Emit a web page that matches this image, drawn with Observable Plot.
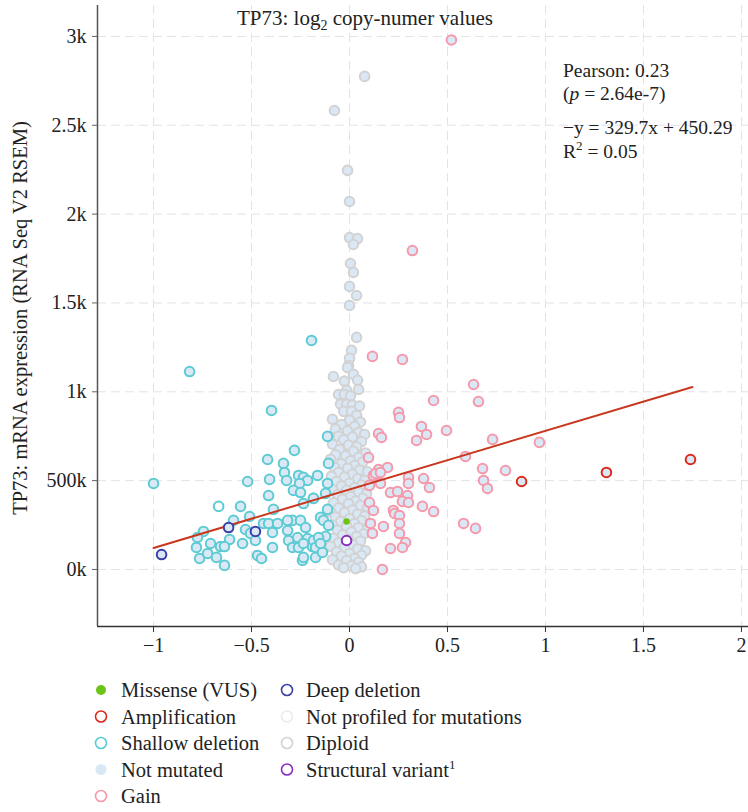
<!DOCTYPE html>
<html>
<head>
<meta charset="utf-8">
<script src="https://cdn.jsdelivr.net/npm/d3@7"></script>
<script src="https://cdn.jsdelivr.net/npm/@observablehq/plot@0.6"></script>
<style>
  html, body { margin: 0; padding: 0; background: #fff; }
  #wrap { width: 748px; }
  svg { display: block; }
</style>
</head>
<body>
<div id="wrap"></div>
<script>
// ---------- data (x: log2 copy-number, y: mRNA expression) ----------
const xTicks = [-1, -0.5, 0, 0.5, 1, 1.5, 2];
const xTickLabels = ["\u22121", "\u22120.5", "0", "0.5", "1", "1.5", "2"];
const yTicks = [0, 500, 1000, 1500, 2000, 2500, 3000];
const yTickLabels = ["0k", "500k", "1k", "1.5k", "2k", "2.5k", "3k"];

const diploid = [
  [-0.077,2583],[0.077,2775],[-0.01,2246],[0.0,2071],[0.0,1868],[0.041,1862],[0.02,1829],
  [0.005,1722],[0.02,1672],[0.0,1593],[0.036,1542],[0.0,1486],[0.036,1306],[0.01,1233],
  [0.0,1188],[-0.005,1148],[-0.082,1086],[-0.01,1137],[0.02,1098],[-0.026,1060],[0.041,1065],
  [-0.015,1008],[0.046,1013],[-0.056,985],[-0.026,985],[0.005,976],[-0.046,930],[-0.015,930],
  [0.015,925],[0.051,920],[-0.03,890],[0.01,890],[0.036,868],
  [-0.087,845],[0.0,840],[0.056,830],[-0.041,815],[0.026,805],[-0.072,790],[-0.01,780],
  [0.046,770],[0.077,760],[-0.056,750],[0.015,745],[-0.03,730],[0.061,720],[-0.087,705],
  [-0.005,700],[0.036,690],[-0.051,675],[0.02,665],[0.082,655],[-0.072,645],[-0.02,640],
  [0.046,630],[-0.097,620],[0.005,612],[0.067,605],[-0.041,595],[0.026,585],[-0.077,575],
  [-0.01,570],[0.051,560],[0.092,550],[-0.056,545],[0.015,535],[-0.092,525],[-0.026,520],
  [0.041,510],[0.077,500],[-0.066,495],[0.0,485],[0.061,475],[-0.041,470],[0.026,460],
  [-0.087,450],[-0.015,445],[0.046,435],[0.087,425],[-0.061,420],[0.005,410],[0.067,400],
  [-0.036,395],[0.031,385],[-0.082,375],[-0.005,370],[0.056,360],[0.092,350],[-0.056,345],
  [0.015,335],[-0.097,325],[-0.026,320],[0.041,310],[0.077,300],[-0.072,295],[0.0,285],
  [0.061,275],[-0.046,270],[0.026,258],[-0.087,250],[-0.015,245],[0.046,235],[0.092,225],
  [-0.061,220],[0.01,210],[0.072,200],[-0.036,195],[0.036,185],[-0.082,175],[-0.005,170],
  [0.056,160],[-0.056,150],[0.015,140],[-0.097,130],[-0.026,125],[0.041,115],[0.082,105],
  [-0.066,100],[0.0,90],[0.061,80],[-0.041,75],[0.026,62],[-0.087,55],[-0.015,50],
  [0.046,40],[-0.056,25],[0.01,20],[0.061,15],[-0.03,10],[0.031,5]
];

const shallow = [
  [-1.0,484],[-0.816,1114],[-0.194,1289],[-0.398,895],[-0.112,749],
  [-0.281,670],[-0.418,619],[-0.337,597],[-0.332,546],[-0.321,501],[-0.520,495],[-0.408,507],
  [-0.260,529],[-0.235,518],[-0.214,501],[-0.255,484],[-0.286,445],[-0.250,433],[-0.163,529],
  [-0.413,416],[-0.556,355],[-0.388,338],[-0.235,371],[-0.184,400],[-0.148,293],[-0.592,276],
  [-0.510,298],[-0.439,259],[-0.745,214],[-0.776,180],[-0.709,146],[-0.612,169],[-0.658,129],
  [-0.638,129],[-0.546,146],[-0.531,225],[-0.505,203],[-0.480,163],[-0.781,124],[-0.765,62],
  [-0.724,90],[-0.679,68],[-0.638,23],[-0.469,79],[-0.449,62],[-0.393,124],[-0.413,259],
  [-0.393,208],[-0.367,259],[-0.316,219],[-0.291,276],[-0.250,276],[-0.224,236],[-0.265,180],
  [-0.311,163],[-0.291,124],[-0.260,124],[-0.189,129],[-0.214,174],[-0.184,163],[-0.173,68],
  [-0.240,51],[-0.316,276],
  [-0.107,597],[-0.112,484],[-0.122,428],[-0.184,400],[-0.112,338],[-0.133,276],[-0.107,248],
  [-0.122,186],[-0.158,180],[-0.173,124],[-0.138,96],[-0.235,68],[-0.235,146],[-0.148,146]
];
const shallowUnprofiled = [[-0.668,355]];

const gain = [
  [0.52,2980],[0.321,1795],[0.117,1199],[0.270,1182],[0.633,1041],[0.658,945],[0.429,951],
  [0.250,884],[0.255,855],[0.367,805],[0.393,760],[0.342,726],[0.495,782],[0.730,732],
  [0.148,765],[0.163,743],[0.097,630],[0.592,636],[0.679,568],[0.796,557],[0.684,501],
  [0.704,456],[0.194,574],[0.148,563],[0.122,529],[0.158,484],[0.102,473],[0.301,518],
  [0.301,484],[0.378,512],[0.408,461],[0.209,433],[0.245,439],[0.296,416],[0.270,383],
  [0.301,377],[0.102,377],[0.122,332],[0.372,355],[0.429,326],[0.224,332],[0.230,315],
  [0.255,304],[0.107,259],[0.117,203],[0.173,242],[0.255,259],[0.255,203],[0.286,152],
  [0.270,124],[0.209,118],[0.582,259],[0.643,231],[0.168,0],[0.969,715],[0.133,540],[0.158,546]
];

const amplification = [[0.878,495],[1.311,546],[1.740,619]];
const deepDeletion = [[-0.959,84],[-0.617,236],[-0.480,214]];
const structuralVariant = [[-0.015,163]];
const missense = [[-0.015,270]];

// regression (as printed on the chart)
const regSlope = 329.7, regIntercept = 450.29;
const regX = [-1, 1.75];

// legend
const legendItems = [
  {label: "Missense (VUS)", kind: "dot", color: "#6cc417", col: 0, row: 0},
  {label: "Amplification", kind: "ring", color: "#dd2a1a", col: 0, row: 1},
  {label: "Shallow deletion", kind: "ring", color: "#5ccbd3", col: 0, row: 2},
  {label: "Not mutated", kind: "fill", color: "#dae8f5", col: 0, row: 3},
  {label: "Gain", kind: "ring", color: "#f599ab", col: 0, row: 4},
  {label: "Deep deletion", kind: "ring", color: "#3b3fa8", col: 1, row: 0},
  {label: "Not profiled for mutations", kind: "ring", color: "#ececec", col: 1, row: 1},
  {label: "Diploid", kind: "ring", color: "#d2d2d2", col: 1, row: 2},
  {label: "Structural variant", sup: "1", kind: "ring", color: "#8a2fc0", col: 1, row: 3}
];

// ---------- chart ----------
const FONT = "Liberation Serif";
const FILL = "#dae8f5";
const regLine = regX.map(x => ({x, y: regSlope * x + regIntercept}));
const pts = arr => arr.map(([x, y]) => ({x, y}));
const dotOpts = (stroke, fill) => ({x: "x", y: "y", r: 4.8, stroke, fill, strokeWidth: 2});

const plot = Plot.plot({
  width: 748, height: 665,
  marginLeft: 97, marginRight: 0, marginTop: 5, marginBottom: 39,
  style: {fontFamily: FONT, fontSize: "20px", color: "#222", background: "#fff"},
  x: {domain: [-1.286, 2.036]},
  y: {domain: [-321, 3174]},
  marks: [
    Plot.gridX(xTicks, {stroke: "#e2e2ea", strokeOpacity: 1, strokeDasharray: "9,5"}),
    Plot.gridY(yTicks, {stroke: "#e2e2ea", strokeOpacity: 1, strokeDasharray: "9,5"}),
    Plot.axisX(xTicks, {tickSize: 6, tickPadding: 5, label: null, stroke: "#333", fontSize: 20,
      tickFormat: d => xTickLabels[xTicks.indexOf(d)]}),
    Plot.axisY(yTicks, {tickSize: 5, tickPadding: 6, label: null, stroke: "#666", fontSize: 20,
      tickFormat: d => yTickLabels[yTicks.indexOf(d)]}),
    Plot.ruleX([-1.286], {stroke: "#555", strokeWidth: 1.5}),
    Plot.ruleY([-321], {stroke: "#333", strokeWidth: 1.5}),
    Plot.dot(pts(diploid), dotOpts("#d2d2d2", FILL)),
    Plot.dot(pts(shallow), dotOpts("#5ccbd3", FILL)),
    Plot.dot(pts(shallowUnprofiled), dotOpts("#5ccbd3", "#ffffff")),
    Plot.dot(pts(gain), dotOpts("#f599ab", FILL)),
    Plot.line(regLine, {x: "x", y: "y", stroke: "#c8381f", strokeWidth: 2}),
    Plot.dot(pts(amplification), dotOpts("#dd2a1a", FILL)),
    Plot.dot(pts(deepDeletion), dotOpts("#3b3fa8", FILL)),
    Plot.dot(pts(structuralVariant), dotOpts("#8a2fc0", "#ffffff")),
    Plot.dot(pts(missense), {x: "x", y: "y", r: 3.3, fill: "#6cc417", stroke: "none"})
  ]
});
document.getElementById("wrap").appendChild(plot);

// annotations (text with sub/superscripts)
const svg = d3.select(plot);
const ann = svg.append("g").attr("font-family", FONT).attr("fill", "#222").attr("text-anchor", "start");
const title = ann.append("text").attr("x", 365).attr("y", 25).attr("text-anchor", "middle").attr("font-size", 21);
title.append("tspan").text("TP73: log");
title.append("tspan").attr("font-size", 14).attr("dy", 5).text("2");
title.append("tspan").attr("dy", -5).text(" copy-numer values");

const ax = 563;
ann.append("text").attr("x", ax).attr("y", 77).attr("font-size", 19.5).text("Pearson: 0.23");
const p = ann.append("text").attr("x", ax).attr("y", 100).attr("font-size", 19.5);
p.append("tspan").text("(");
p.append("tspan").attr("font-style", "italic").text("p");
p.append("tspan").text(" = 2.64e-7)");
ann.append("text").attr("x", ax).attr("y", 134).attr("font-size", 19.5).text("\u2212y = 329.7x + 450.29");
const r2 = ann.append("text").attr("x", ax).attr("y", 158).attr("font-size", 19.5);
r2.append("tspan").text("R");
r2.append("tspan").attr("font-size", 13).attr("dy", -8).text("2");
r2.append("tspan").attr("dy", 8).text(" = 0.05");

ann.append("text").attr("transform", "translate(27,318) rotate(-90)")
  .attr("text-anchor", "middle").attr("font-size", 20.5)
  .text("TP73: mRNA expression (RNA Seq V2 RSEM)");

// ---------- legend ----------
const leg = d3.select("#wrap").append("svg").attr("width", 748).attr("height", 147)
  .attr("font-family", FONT);
const colX = [101, 287], textX = [121, 306], rowY0 = 25, rowH = 26.5;
const items = leg.selectAll("g").data(legendItems).join("g")
  .attr("transform", d => `translate(0,${rowY0 + d.row * rowH})`);
items.append("circle")
  .attr("cx", d => colX[d.col]).attr("cy", 0)
  .attr("r", d => d.kind === "dot" ? 5 : 5.5)
  .attr("fill", d => d.kind === "ring" ? "#fff" : d.color)
  .attr("stroke", d => d.kind === "ring" ? d.color : "none")
  .attr("stroke-width", 1.6);
const lt = items.append("text")
  .attr("x", d => textX[d.col]).attr("y", 7).attr("font-size", 20.5).attr("fill", "#222");
lt.append("tspan").text(d => d.label);
lt.filter(d => d.sup).append("tspan").attr("font-size", 13).attr("dy", -8).text(d => d.sup);
</script>
</body>
</html>
